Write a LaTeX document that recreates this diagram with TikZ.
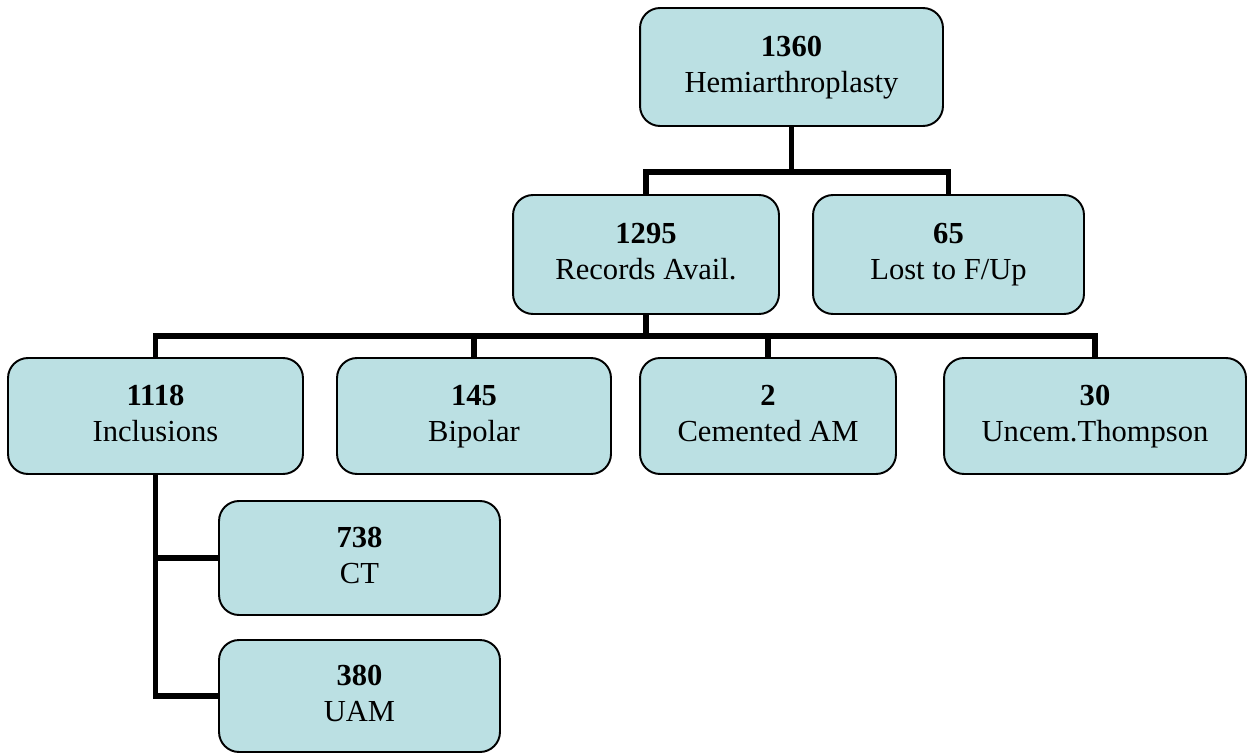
\documentclass[tikz,border=0pt]{standalone}
\usepackage{fontspec}
\setmainfont{Liberation Serif}
\usetikzlibrary{calc}

\definecolor{boxfill}{HTML}{BBE0E3}
\newcommand{\countlabel}[2]{\textbf{#1}\strut\\#2\strut}

\begin{document}
\begin{tikzpicture}[
    x=0.02cm,
    y=-0.02cm,
    line join=miter,
    countbox/.style={
        draw=black,
        line width=1.1pt,
        fill=boxfill,
        rounded corners=0.4cm,
        align=center,
        inner sep=0pt,
        font=\fontsize{17.4}{20.4}\selectfont
    },
    link/.style={
        draw=black,
        line width=3pt
    }
]
    % Page frame, in pixels of the sketch
    \useasboundingbox (0,0) rectangle (1253,753);

    % Bus levels
    \pgfmathsetmacro{\busA}{172}
    \pgfmathsetmacro{\busB}{336}

    % Top
    \node[countbox, minimum width=6.06cm, minimum height=2.36cm] (hemi) at (791.5,67)
        {\countlabel{1360}{Hemiarthroplasty}};

    % Second row
    \node[countbox, minimum width=5.32cm, minimum height=2.38cm] (records) at (646,254.5)
        {\countlabel{1295}{Records Avail.}};
    \node[countbox, minimum width=5.42cm, minimum height=2.38cm] (lost) at (948.5,254.5)
        {\countlabel{65}{Lost to F/Up}};

    % Third row
    \node[countbox, minimum width=5.90cm, minimum height=2.32cm] (incl) at (155.5,416)
        {\countlabel{1118}{Inclusions}};
    \node[countbox, minimum width=5.48cm, minimum height=2.32cm] (bipolar) at (474,416)
        {\countlabel{145}{Bipolar}};
    \node[countbox, minimum width=5.12cm, minimum height=2.32cm] (cemam) at (768,416)
        {\countlabel{2}{Cemented AM}};
    \node[countbox, minimum width=6.04cm, minimum height=2.32cm] (thompson) at (1095,416)
        {\countlabel{30}{Uncem.Thompson}};

    % Under Inclusions
    \node[countbox, minimum width=5.62cm, minimum height=2.28cm] (ct) at (359.5,558)
        {\countlabel{738}{CT}};
    \node[countbox, minimum width=5.62cm, minimum height=2.24cm] (uam) at (359.5,696)
        {\countlabel{380}{UAM}};

    \coordinate (busa) at (0,\busA);
    \coordinate (busb) at (0,\busB);

    % Connectors
    \draw[link] (hemi.south) -- (hemi.south |- busa);
    \draw[link] (records.north) -- (records.north |- busa) -- (lost.north |- busa) -- (lost.north);

    \draw[link] (records.south) -- (records.south |- busb);
    \draw[link] (incl.north) -- (incl.north |- busb) -- (thompson.north |- busb) -- (thompson.north);
    \foreach \n in {bipolar,cemam} {
        \draw[link] (\n.north) -- (\n.north |- busb);
    }

    \draw[link] (incl.south) |- (uam.west);
    \draw[link] (incl.south |- ct.west) -- (ct.west);
\end{tikzpicture}
\end{document}
